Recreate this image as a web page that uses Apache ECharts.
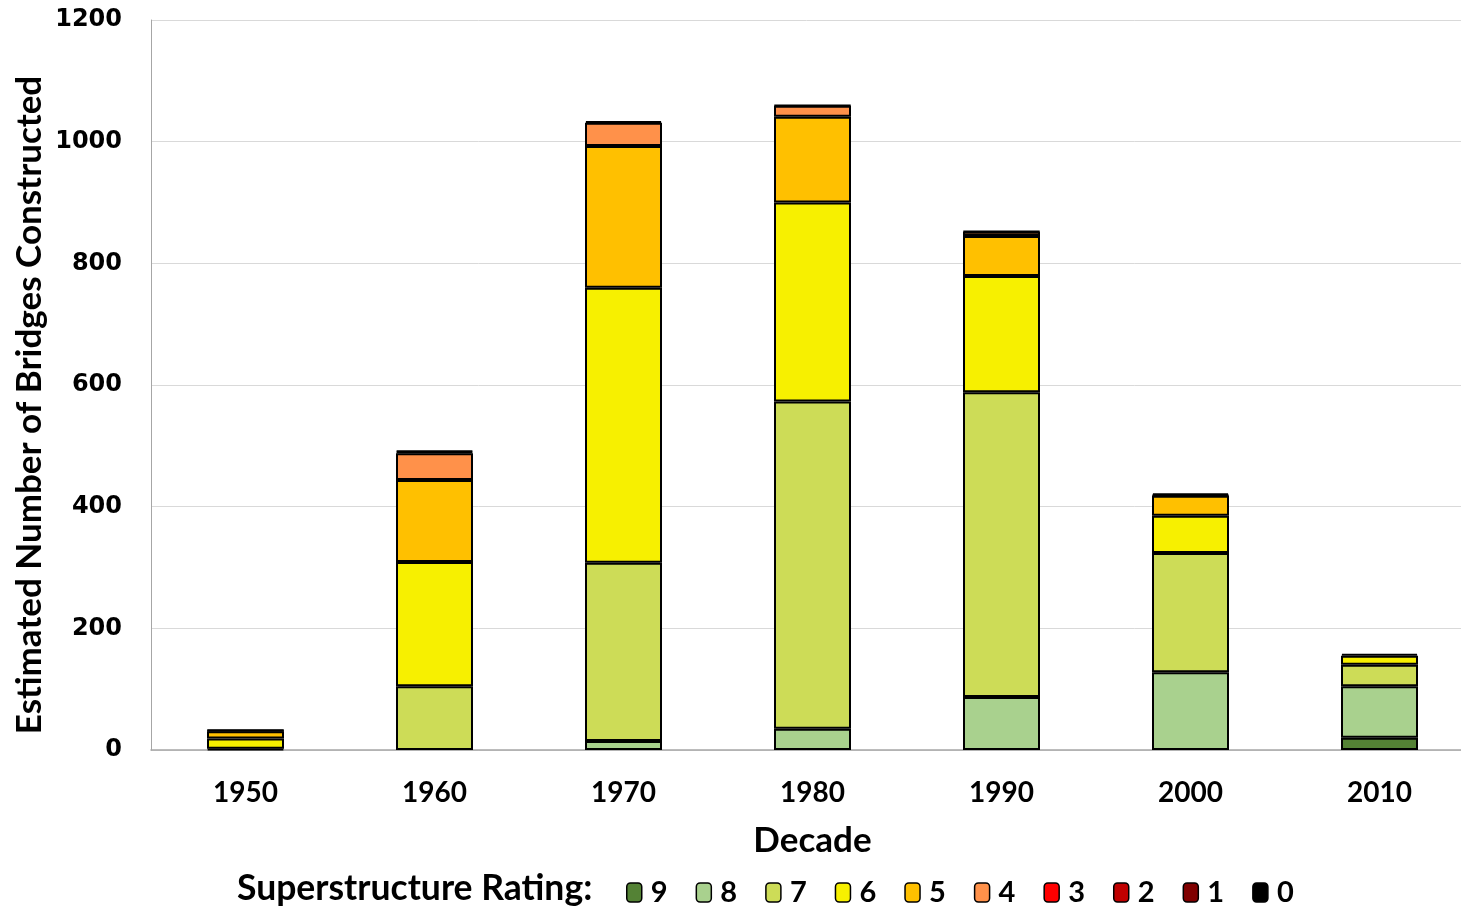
<!DOCTYPE html>
<html>
<head>
<meta charset="utf-8">
<script src="https://cdn.jsdelivr.net/npm/echarts@6/dist/echarts.min.js"></script>
<style>
  html, body { margin: 0; padding: 0; background: #fff; }
  #chart { width: 1461px; height: 909px; }
</style>
</head>
<body>
<div id="chart"></div>
<script>
// decades on the x axis
var decades = ['1950', '1960', '1970', '1980', '1990', '2000', '2010'];

// superstructure ratings, bottom of stack first
var ratings = ['9', '8', '7', '6', '5', '4', '3', '2', '1', '0'];

// estimated bridges per decade for each rating
var r9 = [0, 0, 0, 0, 0, 0, 20];
var r8 = [0, 0, 15, 35, 87, 128, 85];
var r7 = [2, 105, 293, 538, 501, 196, 35];
var r6 = [17, 204, 452, 327, 191, 61, 15];
var r5 = [12, 135, 233, 141, 66, 33, 0];
var r4 = [1, 44, 38, 18, 7, 1, 0];
var r3 = [0, 0, 0, 0, 0, 0, 0];
var r2 = [0, 0, 0, 0, 0, 0, 0];
var r1 = [0, 2, 0, 0, 0, 0, 0];
var r0 = [1, 2, 3, 1, 1, 3, 3];

var values = [r9, r8, r7, r6, r5, r4, r3, r2, r1, r0];
var colors = ['#548235', '#a9d18e', '#cddc57', '#f7f000', '#ffc000',
              '#ff914a', '#ff0000', '#c00000', '#800000', '#000000'];

var series = [];
for (var i = 0; i < ratings.length; i++) {
    series.push({
        name: ratings[i],
        type: 'bar',
        stack: 'total',
        barWidth: 77,
        itemStyle: {
            color: colors[i],
            borderColor: '#000',
            borderWidth: 2
        },
        data: values[i].map(function (v) { return v === 0 ? '-' : v; })
    });
}

var chart = echarts.init(document.getElementById('chart'));
var option = {
    animation: false,
    title: {
        text: 'Superstructure Rating:',
        left: 232,
        top: 866,
        textStyle: {
            fontFamily: 'Lato',
            fontWeight: 'bold',
            fontSize: 35.5,
            color: '#000'
        }
    },
    graphic: [{
        type: 'text',
        x: 30,
        y: 405,
        rotation: Math.PI / 2,
        style: {
            text: 'Estimated Number of Bridges Constructed',
            fontFamily: 'Lato',
            fontWeight: 'bold',
            fontSize: 35,
            fill: '#000',
            align: 'center',
            verticalAlign: 'middle'
        }
    }],
    legend: {
        data: ratings,
        left: 621,
        top: 873,
        itemWidth: 15,
        itemHeight: 19,
        itemGap: 28,
        textStyle: {
            fontFamily: 'Lato',
            fontWeight: 'bold',
            fontSize: 29,
            color: '#000',
            padding: [0, 0, 0, 4]
        },
        itemStyle: {
            borderColor: '#000',
            borderWidth: 1.5
        }
    },
    grid: {
        left: 151,
        right: -13,
        top: 20,
        bottom: 159,
        containLabel: false,
        outerBoundsMode: 'none'
    },
    xAxis: {
        type: 'category',
        data: decades,
        name: 'Decade',
        nameLocation: 'middle',
        nameGap: 73,
        nameTextStyle: {
            fontFamily: 'Lato',
            fontWeight: 'bold',
            fontSize: 35,
            color: '#000'
        },
        axisLine: { lineStyle: { color: '#a6a6a6', width: 1.5 } },
        axisTick: { length: 10, lineStyle: { color: '#a6a6a6' } },
        axisLabel: {
            margin: 29,
            fontFamily: 'Lato',
            fontWeight: 'bold',
            fontSize: 28,
            color: '#000'
        }
    },
    yAxis: {
        type: 'value',
        min: 0,
        max: 1200,
        interval: 200,
        axisLine: { show: true, lineStyle: { color: '#a6a6a6', width: 1 } },
        axisTick: { show: false },
        axisLabel: {
            margin: 29,
            fontFamily: 'DejaVu Sans',
            fontWeight: 'bold',
            fontSize: 24,
            color: '#000',
            formatter: function (v) { return String(v); }
        },
        splitLine: { lineStyle: { color: '#d9d9d9', width: 1 } }
    },
    series: series
};
chart.setOption(option);
</script>
</body>
</html>
